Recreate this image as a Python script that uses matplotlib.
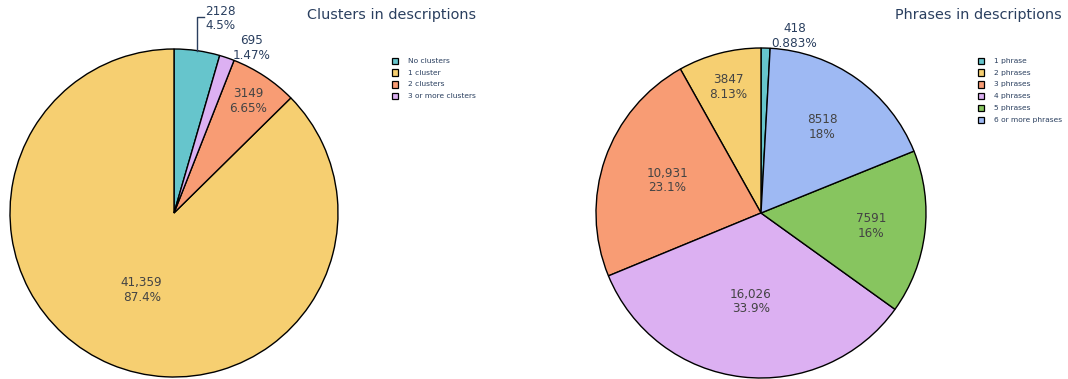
# Two pie charts: clusters / phrases in descriptions

import numpy as np
import matplotlib.pyplot as plt
from matplotlib.patches import Rectangle

W_PX, H_PX = 1068, 379

# --------------------------------------------------
# data
# --------------------------------------------------
cluster_labels = ["No clusters", "1 cluster", "2 clusters", "3 or more clusters"]
cluster_counts = [2128, 41359, 3149, 695]

phrase_labels = ["1 phrase", "2 phrases", "3 phrases", "4 phrases",
                 "5 phrases", "6 or more phrases"]
phrase_counts = [418, 3847, 10931, 16026, 7591, 8518]

# plotly "Pastel" palette
pastel = ["#66C5CC", "#F6CF71", "#F89C74", "#DCB0F2", "#87C55F", "#9EB9F3"]

inside_col = "#444444"
outside_col = "#2a3f5f"

fig = plt.figure(figsize=(W_PX / 100, H_PX / 100), dpi=100)
ax = fig.add_axes([0, 0, 1, 1])


def py(y):
    # pixel row (from top) -> data y
    return H_PX - y


def fmt_count(v):
    return f"{v:,}" if v >= 10000 else str(v)


def fmt_pct(p):
    s = f"{p:.3g}"
    return s + "%"


def draw_pie(counts, labels, cx, cy, r, label_pos, title, title_x, legend_x):
    counts = np.array(counts, dtype=float)
    frac = counts / counts.sum()
    start = 90 - 360 * frac[0]
    wedges, _ = ax.pie(counts, colors=pastel[:len(counts)], startangle=start,
                       counterclock=True, center=(cx, py(cy)), radius=r,
                       wedgeprops=dict(edgecolor="black", linewidth=1.0),
                       frame=True)
    for i, w in enumerate(wedges):
        mid = np.deg2rad((w.theta1 + w.theta2) / 2)
        txt = f"{fmt_count(int(counts[i]))}\n{fmt_pct(frac[i] * 100)}"
        kind, a, b = label_pos[i]
        if kind == "in":
            x = cx + a * r * np.cos(mid)
            y = py(cy) + a * r * np.sin(mid)
            ax.text(x, y, txt, ha="center", va="center", fontsize=8.64,
                    color=inside_col, linespacing=1.15)
        else:
            ex = cx + r * np.cos(mid)
            ey = py(cy) + r * np.sin(mid)
            if kind == "line":
                ax.plot([ex, ex, ex + 7], [ey, ey + b, ey + b],
                        color=outside_col, linewidth=1.0)
                ax.text(ex + a, ey + b - 2, txt, ha="left", va="center",
                        fontsize=8.64, color=outside_col, linespacing=1.15)
            else:
                ax.text(ex + a, ey + b, txt, ha="center", va="center",
                        fontsize=8.64, color=outside_col, linespacing=1.15)

    ax.text(title_x, py(15), title, ha="right", va="center",
            fontsize=10.4, color=outside_col)

    # legend
    for i, lab in enumerate(labels):
        yy = py(60.8 + 11.8 * i)
        ax.add_patch(Rectangle((legend_x, yy - 3.25), 6.5, 6.5, facecolor=pastel[i],
                               edgecolor="black", linewidth=0.9))
        ax.text(legend_x + 16, yy, lab, ha="left", va="center",
                fontsize=5.4, color=outside_col)


draw_pie(cluster_counts, cluster_labels, 174, 213, 164,
         [("line", 8.5, 34), ("in", 0.51, 0), ("in", 0.82, 0), ("out", 25, 10)],
         "Clusters in descriptions", 476, 391.5)

draw_pie(phrase_counts, phrase_labels, 761, 213, 165,
         [("out", 29, 12), ("in", 0.79, 0), ("in", 0.60, 0), ("in", 0.54, 0),
          ("in", 0.67, 0), ("in", 0.64, 0)],
         "Phrases in descriptions", 1062, 977.5)

ax.set_aspect("equal")
ax.set_xlim(0, W_PX)
ax.set_ylim(0, H_PX)
ax.axis("off")

fig.savefig("out.png", dpi=100)
